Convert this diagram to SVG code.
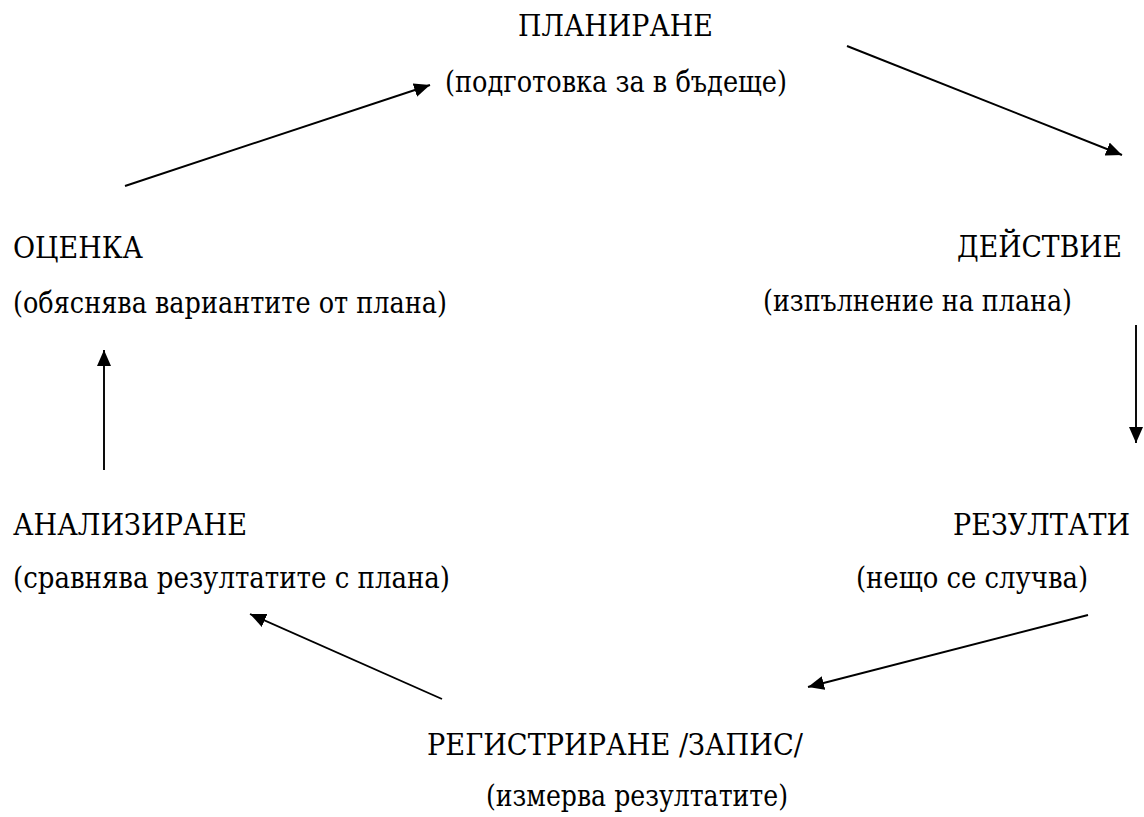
<svg xmlns="http://www.w3.org/2000/svg" width="1144" height="817" viewBox="0 0 1144 817">
<style>
text{font-family:'DejaVu Serif','Liberation Serif',serif;font-size:29.5px;fill:#000}
.c{stroke:#000;stroke-width:1.9;fill:none;marker-end:url(#ah)}
</style>
<defs>
<marker id="ah" markerUnits="userSpaceOnUse" markerWidth="17" markerHeight="14" refX="16" refY="7" orient="auto" viewBox="0 0 17 14">
<path d="M0,0 L16,7 L0,14 z" fill="#000"/>
</marker>
</defs>
<rect width="1144" height="817" fill="#fff"/>
<g id="planirane">
<text x="518" y="36" textLength="195" lengthAdjust="spacingAndGlyphs">ПЛАНИРАНЕ</text>
<text x="445" y="92" textLength="342" lengthAdjust="spacingAndGlyphs">(подготовка за в бъдеще)</text>
</g>
<g id="deistvie">
<text x="957" y="257" textLength="165" lengthAdjust="spacingAndGlyphs">ДЕЙСТВИЕ</text>
<text x="763" y="311" textLength="309" lengthAdjust="spacingAndGlyphs">(изпълнение на плана)</text>
</g>
<g id="rezultati">
<text x="953" y="535" textLength="177" lengthAdjust="spacingAndGlyphs">РЕЗУЛТАТИ</text>
<text x="856" y="588" textLength="232" lengthAdjust="spacingAndGlyphs">(нещо се случва)</text>
</g>
<g id="registrirane">
<text x="427" y="755" textLength="376" lengthAdjust="spacingAndGlyphs">РЕГИСТРИРАНЕ /ЗАПИС/</text>
<text x="486" y="806" textLength="302" lengthAdjust="spacingAndGlyphs">(измерва резултатите)</text>
</g>
<g id="analizirane">
<text x="13" y="535" textLength="234" lengthAdjust="spacingAndGlyphs">АНАЛИЗИРАНЕ</text>
<text x="13" y="588" textLength="437" lengthAdjust="spacingAndGlyphs">(сравнява резултатите с плана)</text>
</g>
<g id="ocenka">
<text x="13" y="258" textLength="130" lengthAdjust="spacingAndGlyphs">ОЦЕНКА</text>
<text x="13" y="313" textLength="434" lengthAdjust="spacingAndGlyphs">(обяснява вариантите от плана)</text>
</g>
<g id="connectors">
<line class="c" x1="125" y1="186" x2="430" y2="85"/>
<line class="c" x1="847" y1="46" x2="1122" y2="155"/>
<line class="c" x1="1136" y1="325" x2="1136" y2="443"/>
<line class="c" x1="1088" y1="615" x2="808" y2="687"/>
<line class="c" x1="442" y1="699" x2="250" y2="614"/>
<line class="c" x1="104" y1="470" x2="104" y2="350"/>
</g>
</svg>
